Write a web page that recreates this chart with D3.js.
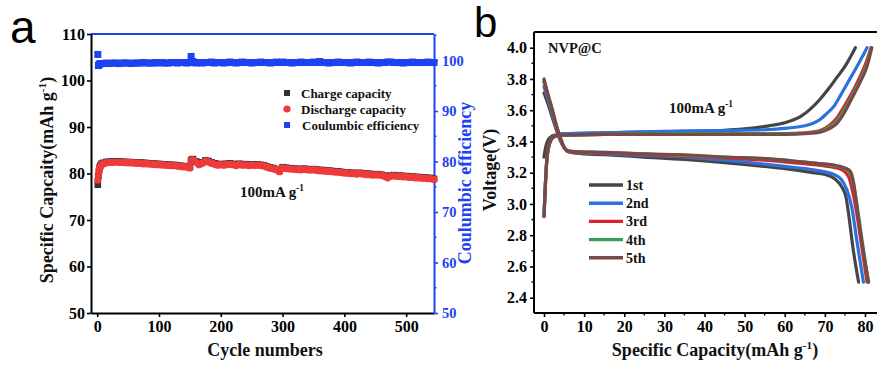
<!DOCTYPE html>
<html lang="en">
<head>
<meta charset="UTF-8">
<script src="https://d3js.org/d3.v7.min.js"></script>
<style>
body{margin:0;background:#fff;}
svg text{font-family:"Liberation Serif","Times New Roman",serif;font-weight:bold;}
svg text.tag{font-family:"Liberation Sans",Arial,sans-serif;font-weight:normal;}
</style>
</head>
<body>
<div id="chart"></div>
<script>
// ---------- panel a data (cycling at 100 mA/g) ----------
const cycles = [1, 2, 3, 4, 5, 7,
  10, 15, 20, 25, 30, 35, 40, 45, 50, 55,
  60, 65, 70, 75, 80, 85, 90, 95, 100, 105,
  110, 115, 120, 125, 130, 135, 140, 145, 150,
  152, 155, 160, 165, 170, 175, 180, 185, 190, 195,
  200, 205, 210, 215, 220, 225, 230, 235, 240, 245,
  250, 255, 260, 265, 270, 275, 280, 285, 290, 295,
  300, 305, 310, 315, 320, 325, 330, 335, 340, 345,
  350, 355, 360, 365, 370, 375, 380, 385, 390, 395,
  400, 405, 410, 415, 420, 425, 430, 435, 440, 445,
  450, 455, 460, 465, 470, 475, 480, 485, 490, 495,
  500, 505, 510, 515, 520, 525, 530, 535, 540, 545];

const chargeCap = [77.6, 79.5, 80.6, 81.3, 81.7, 82.1,
  82.3, 82.5, 82.55, 82.6, 82.6, 82.55, 82.55, 82.5, 82.45, 82.45,
  82.4, 82.35, 82.35, 82.3, 82.25, 82.2, 82.15, 82.1, 82.05, 82.0,
  81.95, 81.9, 81.85, 81.85, 81.75, 81.65, 81.6, 81.55, 81.4,
  82.9, 83.1, 82.6, 82.1, 82.4, 82.8, 82.7, 82.4, 82.2, 82.0,
  82.05, 82.0, 82.1, 82.2, 82.05, 81.9, 82.1, 82.0, 82.0, 81.9,
  81.95, 81.9, 81.95, 81.85, 81.75, 81.5, 81.3, 81.15, 80.95, 80.6,
  81.35, 81.25, 81.15, 81.1, 81.05, 81.0, 80.95, 81.05, 80.95, 80.9,
  80.95, 80.85, 80.75, 80.75, 80.65, 80.65, 80.55, 80.45, 80.45, 80.35,
  80.25, 80.25, 80.15, 80.15, 80.05, 80.15, 80.05, 79.95, 79.95, 79.85,
  79.85, 79.85, 79.75, 79.55, 79.3, 79.55, 79.65, 79.55, 79.55, 79.45,
  79.45, 79.35, 79.35, 79.25, 79.25, 79.15, 79.15, 79.05, 79.05, 78.85];

const dischargeCap = [78.6, 79.8, 80.6, 81.1, 81.5, 81.9,
  82.1, 82.3, 82.4, 82.4, 82.45, 82.4, 82.4, 82.35, 82.3, 82.3,
  82.25, 82.2, 82.2, 82.1, 82.1, 82.05, 82.0, 81.95, 81.9, 81.85,
  81.8, 81.75, 81.7, 81.7, 81.6, 81.5, 81.45, 81.4, 81.2,
  82.7, 82.9, 82.4, 81.9, 82.2, 82.6, 82.5, 82.2, 82.0, 81.8,
  81.9, 81.8, 81.95, 82.0, 81.9, 81.7, 81.95, 81.8, 81.85, 81.7,
  81.8, 81.75, 81.8, 81.7, 81.6, 81.35, 81.15, 81.0, 80.8, 80.4,
  81.2, 81.1, 81.0, 80.95, 80.9, 80.85, 80.8, 80.9, 80.8, 80.75,
  80.8, 80.7, 80.6, 80.6, 80.5, 80.5, 80.4, 80.3, 80.3, 80.2,
  80.1, 80.1, 80.0, 80.0, 79.9, 80.0, 79.9, 79.8, 79.8, 79.7,
  79.7, 79.7, 79.6, 79.4, 79.1, 79.4, 79.5, 79.4, 79.4, 79.3,
  79.3, 79.2, 79.2, 79.1, 79.1, 79.0, 79.0, 78.9, 78.9, 78.7];

const coulEff = [101.2, 99.0, 99.2, 99.3, 99.4, 99.4,
  99.4, 99.5, 99.4, 99.5, 99.5, 99.4, 99.5, 99.5, 99.5, 99.4,
  99.5, 99.5, 99.5, 99.6, 99.5, 99.5, 99.5, 99.6, 99.5, 99.6,
  99.5, 99.5, 99.6, 99.6, 99.5, 99.6, 99.6, 99.5, 99.6,
  100.8, 99.8, 99.5, 99.6, 99.5, 99.6, 99.6, 99.7, 99.5, 99.6,
  99.6, 99.5, 99.6, 99.7, 99.6, 99.5, 99.6, 99.7, 99.6, 99.6,
  99.5, 99.6, 99.6, 99.7, 99.6, 99.6, 99.5, 99.6, 99.7, 99.6,
  99.7, 99.6, 99.6, 99.5, 99.6, 99.6, 99.7, 99.6, 99.6, 99.6,
  99.7, 99.6, 99.8, 99.6, 99.6, 99.5, 99.6, 99.6, 99.7, 99.6,
  99.6, 99.6, 99.5, 99.6, 99.7, 99.6, 99.6, 99.6, 99.7, 99.6,
  99.6, 99.5, 99.6, 99.6, 99.7, 99.7, 99.6, 99.6, 99.6, 99.5,
  99.6, 99.6, 99.7, 99.6, 99.6, 99.6, 99.6, 99.7, 99.6, 99.6];

const cycleTicks = [0, 100, 200, 300, 400, 500];
const capTicksA = [50, 60, 70, 80, 90, 100, 110];
const ceTicks = [50, 60, 70, 80, 90, 100];
const ceMinorTicks = [55, 65, 75, 85, 95, 105];
const legendA = ["Charge capacity", "Discharge capacity", "Coulumbic efficiency"];

// ---------- panel b data: [capacity mAh/g, voltage V] ----------
const curveNames = ["1st", "2nd", "3rd", "4th", "5th"];
const curveColors = ["#454545", "#2b72de", "#d8222a", "#34a05a", "#7a4848"];

const charge1 = [[0,3.30],[0.4,3.36],[1,3.41],[2,3.435],[3.5,3.445],[6,3.45],[15,3.455],[25,3.46],[35,3.465],[44,3.47],[50,3.48],[56,3.50],[60,3.52],[64,3.56],[66.5,3.61],[68.8,3.67],[71,3.74],[73,3.81],[75,3.88],[77.6,4.0]];
const charge2 = [[0,2.92],[0.3,3.10],[0.7,3.28],[1.2,3.37],[2,3.42],[3,3.44],[5,3.45],[15,3.455],[30,3.465],[45,3.47],[55,3.475],[60.5,3.485],[65,3.50],[68.8,3.54],[70.5,3.58],[72.1,3.62],[74,3.70],[76,3.79],[78,3.88],[80.5,4.0]];
const charge3 = [[0,2.92],[0.3,3.10],[0.7,3.28],[1.2,3.37],[2,3.42],[3,3.435],[5,3.44],[15,3.445],[30,3.45],[45,3.45],[60,3.45],[65,3.455],[68.8,3.47],[71,3.50],[73,3.55],[74.5,3.61],[76.3,3.69],[78.5,3.80],[80.2,3.90],[81.5,4.0]];
const charge4 = [[0,2.92],[0.3,3.10],[0.7,3.28],[1.2,3.37],[2,3.42],[3,3.435],[5,3.44],[15,3.445],[30,3.45],[45,3.45],[60,3.45],[65,3.452],[68.8,3.465],[71,3.49],[73,3.53],[74.8,3.60],[76.5,3.68],[78.7,3.79],[80.4,3.89],[81.6,4.0]];
const charge5 = [[0,2.92],[0.3,3.10],[0.7,3.28],[1.2,3.37],[2,3.42],[3,3.435],[5,3.44],[15,3.445],[30,3.445],[45,3.445],[60,3.445],[65,3.45],[68.8,3.46],[71,3.48],[73,3.515],[75,3.59],[76.6,3.67],[78.8,3.78],[80.5,3.88],[81.7,4.0]];

const discharge1 = [[0,3.71],[1,3.64],[2,3.56],[3,3.48],[4,3.41],[5,3.36],[6,3.335],[8,3.325],[15,3.315],[25,3.30],[35,3.285],[45,3.265],[55,3.24],[62,3.22],[67,3.20],[70.5,3.185],[72.5,3.16],[74.2,3.11],[75.3,3.04],[76,2.92],[77,2.72],[78.4,2.50]];
const discharge2 = [[0,3.75],[1,3.67],[2,3.58],[3,3.49],[4,3.42],[5,3.36],[6,3.335],[8,3.33],[15,3.32],[25,3.31],[35,3.30],[45,3.28],[55,3.255],[62,3.235],[68,3.215],[72.1,3.19],[74,3.16],[75.5,3.09],[76.7,2.98],[78,2.76],[79.6,2.50]];
const discharge3 = [[0,3.78],[1,3.69],[2,3.60],[3,3.50],[4,3.42],[5,3.36],[6,3.335],[8,3.33],[15,3.325],[25,3.315],[35,3.305],[45,3.295],[55,3.28],[62,3.265],[68,3.25],[72,3.235],[74.5,3.215],[76,3.17],[77,3.07],[78,2.93],[79,2.76],[80.5,2.50]];
const discharge4 = [[0,3.79],[1,3.70],[2,3.61],[3,3.51],[4,3.43],[5,3.365],[6,3.34],[8,3.335],[15,3.33],[25,3.32],[35,3.31],[45,3.30],[55,3.29],[62,3.275],[68,3.26],[72,3.245],[75,3.225],[76.4,3.19],[77.3,3.10],[78.2,2.96],[79.2,2.78],[80.8,2.50]];
const discharge5 = [[0,3.80],[1,3.70],[2,3.61],[3,3.51],[4,3.43],[5,3.365],[6,3.34],[8,3.335],[15,3.33],[25,3.32],[35,3.315],[45,3.30],[55,3.29],[62,3.275],[68,3.26],[72.1,3.25],[75,3.23],[76.3,3.21],[77.2,3.13],[78,2.98],[79.2,2.76],[80.9,2.50]];

const chargeCurves = [charge1, charge2, charge3, charge4, charge5];
const dischargeCurves = [discharge1, discharge2, discharge3, discharge4, discharge5];

const capTicksB = [0, 10, 20, 30, 40, 50, 60, 70, 80];
const capMinorB = [5, 15, 25, 35, 45, 55, 65, 75];
const voltTicks = [2.4, 2.6, 2.8, 3.0, 3.2, 3.4, 3.6, 3.8, 4.0];
const voltMinor = [2.5, 2.7, 2.9, 3.1, 3.3, 3.5, 3.7, 3.9];

// ---------- drawing ----------
const W = 877, H = 367;
const BLUE = "#1e42f2";
const svg = d3.select("#chart").append("svg")
  .attr("width", W).attr("height", H)
  .style("background", "#fff");

function styleAxis(g, color, fs) {
  g.select(".domain").attr("stroke", color).attr("stroke-width", 2);
  g.selectAll(".tick line").attr("stroke", color).attr("stroke-width", 1.6);
  g.selectAll(".tick text").attr("fill", color).style("font-size", fs + "px");
}

// text with a "-1" superscript at the end of the unit
function supText(parent, x, y, before, after, fs, color, rotate) {
  const t = parent.append("text")
    .attr("x", x).attr("y", y)
    .attr("text-anchor", "middle")
    .attr("fill", color || "#111")
    .style("font-size", fs + "px");
  if (rotate) t.attr("transform", `rotate(-90,${x},${y})`);
  t.append("tspan").text(before);
  t.append("tspan").attr("dy", -fs * 0.4).style("font-size", (fs * 0.62) + "px").text("-1");
  t.append("tspan").attr("dy", fs * 0.4).text(after);
  return t;
}

// ===== panel a =====
const pa = {left: 91, right: 434, top: 34, bottom: 313};
const xA = d3.scaleLinear().domain([-10, 545]).range([pa.left, pa.right]);
const yA = d3.scaleLinear().domain([50, 110]).range([pa.bottom, pa.top]);
const yCE = d3.scaleLinear().domain([50, 105.25]).range([pa.bottom, pa.top]);

const dataA = cycles.map((c, i) => ({c, ch: chargeCap[i], dis: dischargeCap[i], ce: coulEff[i]}));

// top spine (blue)
svg.append("line")
  .attr("x1", pa.left).attr("x2", pa.right)
  .attr("y1", pa.top).attr("y2", pa.top)
  .attr("stroke", BLUE).attr("stroke-width", 2);

const gxA = svg.append("g").attr("transform", `translate(0,${pa.bottom})`)
  .call(d3.axisBottom(xA).tickValues(cycleTicks).tickSize(4).tickSizeOuter(0).tickPadding(4));
styleAxis(gxA, "#000", 16);

const gyA = svg.append("g").attr("transform", `translate(${pa.left},0)`)
  .call(d3.axisLeft(yA).tickValues(capTicksA).tickSize(4).tickSizeOuter(0).tickPadding(2));
styleAxis(gyA, "#000", 16);

const gyCE = svg.append("g").attr("transform", `translate(${pa.right},0)`)
  .call(d3.axisRight(yCE).tickValues(ceTicks).tickSize(4).tickSizeOuter(0).tickPadding(4));
styleAxis(gyCE, BLUE, 14.5);
gyCE.selectAll(".minor").data(ceMinorTicks).enter().append("line")
  .attr("class", "minor")
  .attr("x1", 0).attr("x2", 2.5)
  .attr("y1", d => yCE(d)).attr("y2", d => yCE(d))
  .attr("stroke", BLUE).attr("stroke-width", 1.4);

// data marks
svg.append("g").selectAll("rect").data(dataA).enter().append("rect")
  .attr("x", d => xA(d.c) - 3.3).attr("y", d => yA(d.ch) - 3.3)
  .attr("width", 6.6).attr("height", 6.6)
  .attr("fill", "#333");
svg.append("g").selectAll("circle").data(dataA).enter().append("circle")
  .attr("cx", d => xA(d.c)).attr("cy", d => yA(d.dis))
  .attr("r", 3.7)
  .attr("fill", "#f03a3a");
svg.append("g").selectAll("rect").data(dataA).enter().append("rect")
  .attr("x", d => xA(d.c) - 3.5).attr("y", d => yCE(d.ce) - 3.5)
  .attr("width", 7).attr("height", 7)
  .attr("fill", BLUE);

// legend a
const legA = svg.append("g");
const legY = [93, 109, 125];
legA.append("rect").attr("x", 284).attr("y", legY[0] - 3).attr("width", 6).attr("height", 6).attr("fill", "#333");
legA.append("circle").attr("cx", 287).attr("cy", legY[1]).attr("r", 3.6).attr("fill", "#f03a3a");
legA.append("rect").attr("x", 284).attr("y", legY[2] - 3).attr("width", 6).attr("height", 6).attr("fill", BLUE);
legA.selectAll("text").data(legendA).enter().append("text")
  .attr("x", (d, i) => i === 2 ? 302 : 301)
  .attr("y", (d, i) => legY[i] + 4.5)
  .attr("fill", "#111")
  .style("font-size", "13px")
  .text(d => d);

supText(svg, 272, 197, "100mA g", "", 15, "#111");

// titles a
svg.append("text").attr("x", 265).attr("y", 356)
  .attr("text-anchor", "middle").style("font-size", "18px").attr("fill", "#111")
  .text("Cycle numbers");
supText(svg, 53, 180, "Specific Capcaity(mAh g", ")", 18, "#111", true);
svg.append("text").attr("x", 471).attr("y", 183)
  .attr("text-anchor", "middle").attr("fill", BLUE).style("font-size", "18px")
  .attr("transform", "rotate(-90,471,183)")
  .text("Coulumbic efficiency");

svg.append("text").attr("class", "tag").attr("x", 10).attr("y", 43)
  .style("font-size", "46px").attr("fill", "#000").text("a");

// ===== panel b =====
const pb = {left: 534, right: 880, top: 32, bottom: 313};
const xB = d3.scaleLinear().domain([0, 80]).range([544, 865]);
const yB = d3.scaleLinear().domain([2.4, 4.0]).range([297.7, 47.7]);

svg.append("line")
  .attr("x1", pb.left).attr("x2", pb.right)
  .attr("y1", pb.top).attr("y2", pb.top)
  .attr("stroke", "#000").attr("stroke-width", 2);

const gxB = svg.append("g").attr("transform", `translate(0,${pb.bottom})`)
  .call(d3.axisBottom(xB).tickValues(capTicksB).tickSize(4).tickSizeOuter(0).tickPadding(4));
gxB.select(".domain").attr("d", `M${pb.left},0H${pb.right}`);
styleAxis(gxB, "#000", 16);
gxB.selectAll(".minor").data(capMinorB).enter().append("line")
  .attr("class", "minor")
  .attr("x1", d => xB(d)).attr("x2", d => xB(d))
  .attr("y1", 0).attr("y2", 2.5)
  .attr("stroke", "#000").attr("stroke-width", 1.4);

const gyB = svg.append("g").attr("transform", `translate(${pb.left},0)`)
  .call(d3.axisLeft(yB).tickValues(voltTicks).tickFormat(d3.format(".1f")).tickSize(4).tickSizeOuter(0).tickPadding(3));
gyB.select(".domain").attr("d", `M0,${pb.top}V${pb.bottom}`);
styleAxis(gyB, "#000", 16);
gyB.selectAll(".minor").data(voltMinor).enter().append("line")
  .attr("class", "minor")
  .attr("x1", 0).attr("x2", -2.5)
  .attr("y1", d => yB(d)).attr("y2", d => yB(d))
  .attr("stroke", "#000").attr("stroke-width", 1.4);

const line = d3.line()
  .x(d => xB(d[0])).y(d => yB(d[1]))
  .curve(d3.curveMonotoneX);

const curvesG = svg.append("g");
curveNames.forEach((name, i) => {
  [chargeCurves[i], dischargeCurves[i]].forEach(pts => {
    curvesG.append("path")
      .attr("d", line(pts))
      .attr("fill", "none")
      .attr("stroke", curveColors[i])
      .attr("stroke-width", 3.2)
      .attr("stroke-linecap", "round")
      .attr("stroke-linejoin", "round");
  });
});

// legend b
const legB = svg.append("g");
curveNames.forEach((name, i) => {
  const y = 185 + i * 18.2;
  legB.append("line")
    .attr("x1", 589).attr("x2", 623).attr("y1", y).attr("y2", y)
    .attr("stroke", curveColors[i]).attr("stroke-width", 3.4);
  legB.append("text")
    .attr("x", 626).attr("y", y + 5)
    .attr("fill", "#111").style("font-size", "14px")
    .text(name);
});

svg.append("text").attr("x", 548).attr("y", 53)
  .attr("fill", "#111").style("font-size", "14.5px").text("NVP@C");
supText(svg, 701, 113, "100mA g", "", 15, "#111");

supText(svg, 715, 356, "Specific Capacity(mAh g", ")", 18, "#111");
svg.append("text").attr("x", 496).attr("y", 170)
  .attr("text-anchor", "middle").attr("fill", "#111").style("font-size", "18px")
  .attr("transform", "rotate(-90,496,170)")
  .text("Voltage(V)");

svg.append("text").attr("class", "tag").attr("x", 474).attr("y", 37)
  .style("font-size", "42px").attr("fill", "#000").text("b");
</script>
</body>
</html>
